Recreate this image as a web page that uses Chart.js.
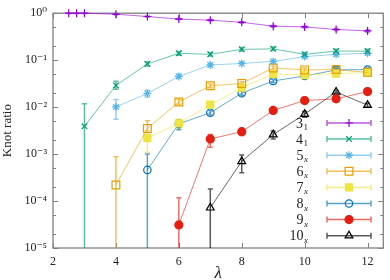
<!DOCTYPE html>
<html><head><meta charset="utf-8">
<script src="https://cdn.jsdelivr.net/npm/chart.js@4/dist/chart.umd.min.js"></script>
<style>html,body{margin:0;padding:0;background:#fff}canvas{display:block}</style>
</head><body><canvas id="c" width="390" height="280"></canvas>
<script>
// ---- tick labels ----
const xTicks = [2, 4, 6, 8, 10, 12];
const yMajor = [1e-5, 1e-4, 1e-3, 1e-2, 1e-1, 1];
const yMinor = [2e-5, 5e-5, 2e-4, 5e-4, 2e-3, 5e-3, 2e-2, 5e-2, 0.2, 0.5];
const yLabels = ['10⁻⁵', '10⁻⁴', '10⁻³', '10⁻²', '10⁻¹', '10⁰'];

// ---- series names ----
const knotNames = ['3', '4', '5', '6', '7', '8', '9', '10'];
const knotSubs  = ['1', '1', 'x', 'x', 'x', 'x', 'x', 'x'];

// ---- values (y = ratio, lo/hi = error bar ends) ----
const x31  = [2.5, 2.75, 3, 4, 5, 6, 7, 8, 9, 10, 11, 12];
const y31  = [1.0, 1.0, 1.0, 0.95, 0.85, 0.75, 0.71, 0.64, 0.53, 0.51, 0.45, 0.42];
const lo31 = [0.99, 0.99, 0.99, 0.93, 0.83, 0.73, 0.69, 0.62, 0.51, 0.49, 0.43, 0.40];
const hi31 = [1.0, 1.0, 1.0, 0.97, 0.87, 0.77, 0.73, 0.66, 0.55, 0.53, 0.47, 0.44];

const x41  = [3, 4, 5, 6, 7, 8, 9, 10, 11, 12];
const y41  = [0.0039, 0.029, 0.083, 0.14, 0.133, 0.17, 0.174, 0.133, 0.156, 0.156];
const lo41 = [1e-6, 0.024, 0.075, 0.128, 0.122, 0.156, 0.16, 0.122, 0.143, 0.143];
const hi41 = [0.0118, 0.0355, 0.092, 0.153, 0.145, 0.185, 0.19, 0.145, 0.17, 0.17];

const x5  = [4, 5, 6, 7, 8, 9, 10, 11, 12];
const y5  = [0.0101, 0.0195, 0.045, 0.079, 0.085, 0.094, 0.119, 0.133, 0.14];
const lo5 = [0.0055, 0.0165, 0.041, 0.073, 0.079, 0.087, 0.11, 0.124, 0.131];
const hi5 = [0.0145, 0.023, 0.05, 0.086, 0.092, 0.102, 0.128, 0.143, 0.15];

const x6  = [4, 5, 6, 7, 8, 9, 10, 11, 12];
const y6  = [2.2e-4, 0.0035, 0.0129, 0.0284, 0.032, 0.068, 0.062, 0.063, 0.055];
const lo6 = [1e-6, 0.0029, 0.0115, 0.026, 0.029, 0.062, 0.057, 0.058, 0.05];
const hi6 = [8.8e-4, 0.0051, 0.0145, 0.031, 0.035, 0.074, 0.068, 0.069, 0.06];

const x7  = [5, 6, 7, 8, 9, 10, 11, 12];
const y7  = [0.0022, 0.0045, 0.0113, 0.026, 0.051, 0.048, 0.052, 0.054];
const lo7 = [0.0011, 0.0035, 0.0101, 0.024, 0.047, 0.044, 0.048, 0.05];
const hi7 = [0.0032, 0.0055, 0.0125, 0.028, 0.055, 0.052, 0.056, 0.058];

const x8  = [5, 6, 7, 8, 9, 10, 11, 12];
const y8  = [4.6e-4, 0.0044, 0.0076, 0.0198, 0.036, 0.046, 0.062, 0.063];
const lo8 = [1e-6, 0.0033, 0.0068, 0.018, 0.033, 0.042, 0.057, 0.058];
const hi8 = [1.0e-3, 0.0053, 0.0085, 0.022, 0.039, 0.05, 0.067, 0.068];

const x9  = [6, 7, 8, 9, 10, 11, 12];
const y9  = [3.1e-5, 0.0021, 0.003, 0.0085, 0.0138, 0.015, 0.0214];
const lo9 = [1e-6, 0.0014, 0.0025, 0.0077, 0.0127, 0.0138, 0.02];
const hi9 = [1.18e-4, 0.0026, 0.0035, 0.0094, 0.015, 0.0162, 0.023];

const x10  = [7, 8, 9, 10, 11, 12];
const y10  = [7.2e-5, 7.0e-4, 0.0026, 0.0071, 0.021, 0.011];
const lo10 = [1e-6, 4.0e-4, 0.0021, 0.0061, 0.0195, 0.0101];
const hi10 = [1.8e-4, 9.6e-4, 0.0031, 0.0081, 0.0225, 0.0121];

const SERIF = "'Liberation Serif','DejaVu Serif',serif";

function pts(xs, ys, los, his) {
  return xs.map((x, i) => ({ x: x, y: ys[i], lo: los[i], hi: his[i] }));
}
function rgba(hex, a) {
  const n = parseInt(hex.slice(1), 16);
  return `rgba(${(n >> 16) & 255},${(n >> 8) & 255},${n & 255},${a})`;
}
function series(i, data, color, style, radius, filled) {
  return {
    label: knotNames[i] + knotSubs[i],
    data: data,
    showLine: true,
    borderColor: rgba(color, 0.6),
    borderWidth: 1,
    pointStyle: style,
    pointRadius: radius,
    pointBorderWidth: 1.2,
    pointBorderColor: color,
    pointBackgroundColor: filled ? color : 'rgba(0,0,0,0)',
    errColor: rgba(color, 0.65),
    baseColor: color,
    filled: filled,
    tension: 0,
    clip: false
  };
}

const datasets = [
  series(0, pts(x31, y31, lo31, hi31), '#9400d3', 'cross', 4, false),
  series(1, pts(x41, y41, lo41, hi41), '#009e73', 'crossRot', 4, false),
  series(2, pts(x5, y5, lo5, hi5), '#56b4e9', 'star', 4, false),
  series(3, pts(x6, y6, lo6, hi6), '#e69f00', 'rect', 5.5, false),
  series(4, pts(x7, y7, lo7, hi7), '#f0e442', 'rect', 5, true),
  series(5, pts(x8, y8, lo8, hi8), '#0072b2', 'circle', 3.7, false),
  series(6, pts(x9, y9, lo9, hi9), '#e51e10', 'circle', 4, true),
  series(7, pts(x10, y10, lo10, hi10), '#000000', 'triangle', 4.5, false)
];

const isMajor = v => yMajor.some(m => Math.abs(Math.log10(v) - Math.log10(m)) < 1e-6);

const frameAndErrors = {
  id: 'frameAndErrors',
  beforeDatasetsDraw(chart) {
    const { ctx, chartArea: a, scales: { x, y } } = chart;
    // frame
    ctx.save();
    ctx.strokeStyle = '#808080';
    ctx.lineWidth = 1.3;
    ctx.strokeRect(a.left, a.top, a.right - a.left, a.bottom - a.top);
    ctx.lineWidth = 1;
    ctx.beginPath();
    y.ticks.forEach(t => {
      const py = Math.round(y.getPixelForValue(t.value)) + 0.5;
      const len = isMajor(t.value) ? 5 : 3;
      ctx.moveTo(a.left, py); ctx.lineTo(a.left + len, py);
      ctx.moveTo(a.right, py); ctx.lineTo(a.right - len, py);
    });
    x.ticks.forEach(t => {
      const px = Math.round(x.getPixelForValue(t.value)) + 0.5;
      ctx.moveTo(px, a.bottom); ctx.lineTo(px, a.bottom - 5);
      ctx.moveTo(px, a.top); ctx.lineTo(px, a.top + 5);
    });
    ctx.stroke();
    ctx.restore();
    // error bars
    ctx.save();
    ctx.beginPath();
    ctx.rect(a.left, a.top, a.right - a.left, a.bottom - a.top);
    ctx.clip();
    chart.data.datasets.forEach(ds => {
      ctx.strokeStyle = ds.errColor;
      ctx.lineWidth = 1.5;
      ctx.beginPath();
      ds.data.forEach(p => {
        const px = x.getPixelForValue(p.x);
        const pl = y.getPixelForValue(p.lo);
        const ph = y.getPixelForValue(p.hi);
        ctx.moveTo(px, pl); ctx.lineTo(px, ph);
        ctx.moveTo(px - 2.5, pl); ctx.lineTo(px + 2.5, pl);
        ctx.moveTo(px - 2.5, ph); ctx.lineTo(px + 2.5, ph);
      });
      ctx.stroke();
    });
    ctx.restore();
  }
};

const keyLegend = {
  id: 'keyLegend',
  afterDraw(chart) {
    const ctx = chart.ctx;
    const textRight = 308, l = 327, r = 371, y0 = 123, dy = 16.1;
    chart.data.datasets.forEach((ds, i) => {
      const yy = y0 + i * dy;
      ctx.save();
      ctx.fillStyle = '#222';
      ctx.textBaseline = 'alphabetic';
      ctx.textAlign = 'right';
      const sub = knotSubs[i];
      ctx.font = (sub === 'x' ? 'italic ' : '') + '9px ' + SERIF;
      const sw = ctx.measureText(sub).width;
      ctx.fillText(sub, textRight, yy + 7);
      ctx.font = '14px ' + SERIF;
      ctx.fillText(knotNames[i], textRight - sw - 0.5, yy + 4.5);
      // sample
      ctx.strokeStyle = ds.errColor;
      ctx.lineWidth = 1.5;
      ctx.beginPath();
      ctx.moveTo(l, yy); ctx.lineTo(r, yy);
      ctx.moveTo(l, yy - 3); ctx.lineTo(l, yy + 3);
      ctx.moveTo(r, yy - 3); ctx.lineTo(r, yy + 3);
      ctx.stroke();
      ctx.strokeStyle = ds.baseColor;
      ctx.fillStyle = ds.filled ? ds.baseColor : 'rgba(0,0,0,0)';
      ctx.lineWidth = ds.pointBorderWidth;
      Chart.helpers.drawPoint(ctx, { pointStyle: ds.pointStyle, radius: ds.pointRadius, borderWidth: ds.pointBorderWidth, rotation: 0 }, (l + r) / 2, yy);
      ctx.restore();
    });
  }
};

new Chart(document.getElementById('c'), {
  type: 'line',
  data: { datasets: datasets },
  options: {
    responsive: false,
    animation: false,
    devicePixelRatio: 1,
    layout: { padding: { top: 6, right: 1, left: 0, bottom: 0 } },
    plugins: { legend: { display: false }, tooltip: { enabled: false } },
    scales: {
      x: {
        type: 'linear',
        min: 2, max: 12.5,
        afterBuildTicks: s => { s.ticks = xTicks.map(v => ({ value: v })); },
        afterFit: s => { s.height = 32; },
        grid: { display: false, drawTicks: false },
        border: { display: false },
        ticks: { color: '#222', font: { family: SERIF, size: 12 }, padding: 7, maxRotation: 0, autoSkip: false },
        title: { display: true, text: 'λ', color: '#222', font: { family: SERIF, size: 17, style: 'italic' }, padding: { top: 0, bottom: -4 } }
      },
      y: {
        type: 'logarithmic',
        min: 1e-5, max: 1,
        afterBuildTicks: s => { s.ticks = yMajor.concat(yMinor).sort((a, b) => a - b).map(v => ({ value: v, major: isMajor(v) })); },
        afterFit: s => { s.width = 53; },
        grid: { display: false, drawTicks: false },
        border: { display: false },
        ticks: {
          color: '#222', font: { family: SERIF, size: 12 }, padding: 6, autoSkip: false,
          callback: v => { const k = yMajor.findIndex(m => Math.abs(Math.log10(v) - Math.log10(m)) < 1e-6); return k >= 0 ? yLabels[k] : ''; }
        },
        title: { display: true, text: 'Knot ratio', color: '#222', font: { family: SERIF, size: 13 }, padding: 0 }
      }
    }
  },
  plugins: [frameAndErrors, keyLegend]
});
</script>
</body></html>
